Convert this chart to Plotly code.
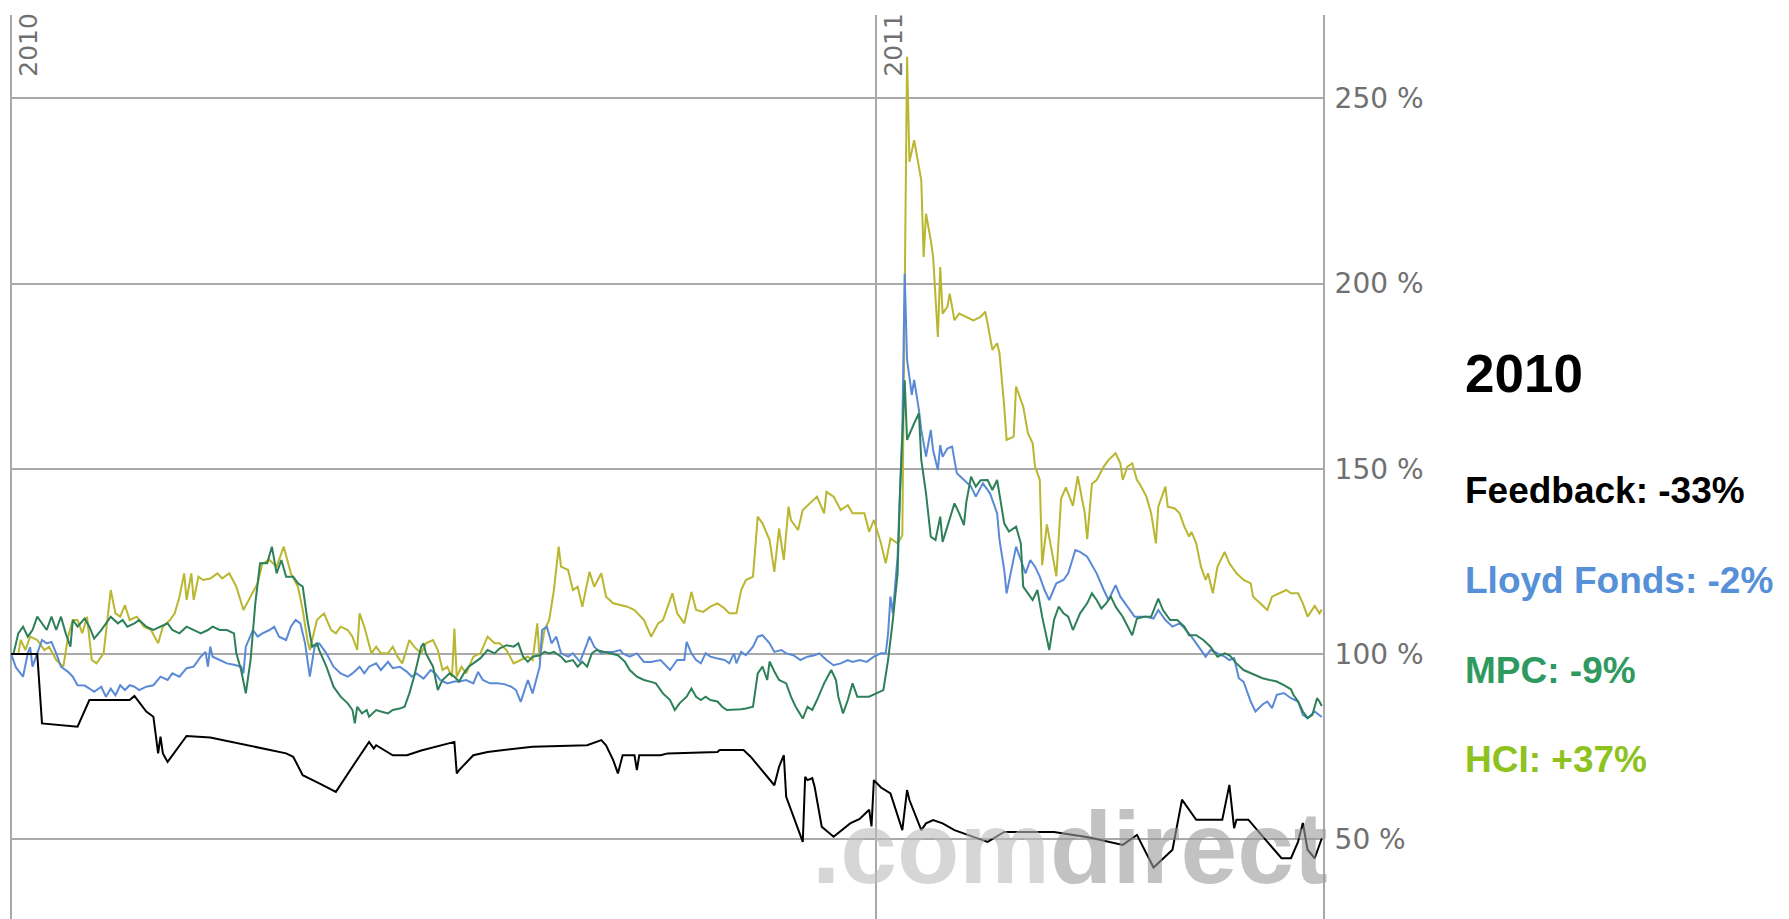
import pandas as pd
import plotly.graph_objects as go

# ---------------- data (day offset from 2010-01-01, value in %) ----------------
start_date = "2010-01-01"

hci = [(0,100),(3,100),(4,103.8),(6,101.1),(8,104.7),(11,103.8),(14,101.1),(16,102),(19,98.4),(22,96.6),
       (24,104.7),(26,109.2),(28,109.2),(30,105.6),(32,110.1),(34,98.4),(36,97.5),(39,100.2),(42,117.3),(44,111),
       (46,110.1),(48,113.2),(50,109.2),(53,110.1),(56,107.4),(59,106.5),(62,102.9),(64,107.4),(67,109.2),(69,111),
       (71,115.5),(73,121.8),(74,114.6),(76,121.8),(77,114.6),(79,120.9),(81,120),(84,120.4),(87,121.8),(89,120.4),
       (92,121.8),(95,118.2),(98,111.9),(101,115.5),(104,119.1),(106,124.5),(109,125.4),(112,123.6),(115,129),(118,121.8),
       (121,118.2),(123,111.9),(125,103.8),(126,101.1),(129,109.2),(132,111),(135,106.5),(137,105.6),(139,107.4),(142,106.5),
       (144,104.7),(146,101.1),(147,111),(149,107.4),(152,100.2),(154,102),(156,100.2),(159,100.2),(161,102),(163,99.3),
       (165,97.5),(168,103.8),(170,102),(173,100.2),(175,102.9),(178,103.8),(180,101.1),(182,95.7),(184,96.6),(186,93.9),
       (187,106.9),(188,93.9),(190,96.6),(192,94.8),(195,99.3),(198,100.2),(201,104.7),(204,102.9),(206,102.9),(209,101.1),
       (212,97.5),(215,98.4),(218,99.3),(220,98.4),(222,108.3),(223,98.4),(225,106.5),(227,109.2),(229,117.3),(231,129),
       (232,123.6),(235,122.7),(237,117.3),(239,118.2),(241,112.8),(244,122.2),(246,118.2),(249,121.8),(251,115.5),(254,113.7),
       (257,113.2),(260,112.8),(263,111.9),(267,109.2),(270,104.7),(273,108.3),(275,109.2),(279,116.4),(281,111),(284,108.3),
       (287,116.8),(289,111.9),(292,111.4),(295,112.8),(298,113.7),(301,112.3),(303,111),(306,111),(308,117.3),(310,120),
       (313,120.9),(315,137.1),(317,135.3),(320,130.8),(322,122.2),(324,133.9),(326,125.4),(328,139.8),(329,136.2),(332,133.5),
       (334,138.9),(337,140.7),(340,142.5),(343,138),(344,143.8),(347,142.5),(350,138.9),(353,140.2),(355,138),(360,138),
       (362,133),(364,136.2),(367,129.9),(369,124.5),(371,131.2),(374,129.9),(376,132),(378,261.2),(379,232.9),(381,238.7),
       (384,227.9),(385,207.2),(386,218.9),(388,211.7),(389,207.2),(391,185.6),(392,204.5),(393,191.9),(395,193.7),(396,197.3),
       (398,190.1),(400,191.9),(403,191),(406,190.1),(409,191),(411,192.4),(412,189.2),(414,182.1),(416,183.9),(417,181.2),
       (419,166.8),(420,157.8),(423,158.7),(424,172.2),(427,166.8),(429,159.6),(431,156.9),(432,150.6),(434,147),(435,124),
       (437,135),(439,128),(441,121),(443,142),(445,145),(448,140),(450,148),(453,138),(454,131),(456,146),
       (458,147),(461,150.6),(463,152.4),(466,154.2),(468,151.5),(469,147),(471,150.6),(473,151.5),(475,147),(476,146.1),
       (479,142.5),(481,138),(483,129.9),(484,139.8),(487,145.2),(488,139.8),(491,139.3),(493,138),(495,134.4),(497,131.7),
       (498,133),(500,129.9),(502,123.6),(504,120),(505,121.8),(507,116.4),(509,123.6),(512,127.6),(514,124.5),(517,121.8),
       (520,120),(523,119.1),(524,115.5),(527,113.7),(530,111.9),(532,115.5),(535,116.4),(538,117.3),(540,116.4),(543,116.4),
       (545,113.7),(547,110.1),(550,113),(552,111),(553,112)]

lloyd = [(0,100),(2,96.4),(5,93.9),(7,100.2),(8,101.9),(9,96.6),(11,100.2),(13,103.8),(15,102.9),(17,103.3),
         (19,100.2),(21,96.6),(24,95.2),(26,93.9),(28,91.6),(31,91.5),(33,90.7),(35,89.8),(38,91.2),(40,88.5),
         (42,90.7),(44,88.9),(46,91.6),(48,90.3),(50,91.6),(52,91.2),(54,90.3),(57,91.2),(60,91.6),(63,93.9),
         (66,93),(68,94.8),(71,93.9),(74,96.2),(77,96.6),(80,99.3),(82,100.6),(83,96.6),(84,102),(85,99.3),
         (88,98.4),(91,97.5),(94,97.1),(97,96.6),(98,94.8),(99,102),(102,106.5),(104,104.7),(106,105.6),(109,106.5),
         (111,107.4),(113,104.7),(116,103.8),(118,107.4),(120,109.2),(122,108.3),(124,102.9),(126,93.9),(128,101.9),(130,102.9),
         (133,100.2),(136,96.6),(139,94.8),(142,93.9),(144,94.8),(147,96.6),(149,94.8),(151,96.6),(154,97.5),(156,95.7),
         (159,97.9),(161,96.2),(164,96.6),(167,95.2),(169,93.9),(171,94.8),(174,93.4),(177,95.7),(179,94.8),(181,93),
         (184,92.1),(187,92.6),(189,92.6),(192,93),(195,92.1),(197,95.2),(199,93),(202,92.1),(205,92.1),(208,91.9),
         (211,91.2),(213,90.3),(215,87.1),(217,91.2),(218,93),(220,89.4),(223,96.6),(224,106.5),(226,107.4),(228,102.9),
         (230,104.7),(232,100.2),(235,99.3),(237,100.2),(240,97.9),(243,102.9),(244,104.7),(246,102),(249,100.2),(251,100.6),
         (254,100.6),(257,101.1),(258,100.2),(261,99.3),(264,100.2),(267,97.9),(270,97.9),(274,98.4),(278,95.7),(281,98.4),
         (284,98.4),(285,103.3),(287,100.2),(289,98.4),(291,97.5),(293,100.2),(295,99.3),(298,98.8),(301,98.4),(303,97.5),
         (305,100.2),(306,97.5),(308,100.6),(310,99.7),(313,102),(315,104.7),(317,105.1),(320,102.9),(322,100.6),(325,101.1),
         (327,100.2),(330,99.7),(333,98.4),(336,99.3),(339,99.7),(341,100.2),(344,98.4),(347,97),(350,97.5),(353,98.4),
         (355,97.9),(358,98.4),(361,97.9),(364,99.3),(367,100.2),(369,100.2),(370,105.6),(371,115.5),(372,111),(374,126.3),
         (376,160),(377,202.7),(378,179.4),(380,170),(381,174),(383,165.9),(384,160.5),(386,153.3),(388,160.5),(389,155),
         (391,149.7),(392,156.4),(393,153.3),(395,155.5),(397,156),(399,148.8),(402,147),(405,145.2),(407,142.5),(410,146.1),
         (413,143.4),(416,138),(417,130.8),(419,122.7),(420,116.4),(422,122.7),(424,129),(426,125.4),(428,121.8),(430,125.4),
         (432,123.6),(434,120.9),(436,117.3),(438,114.6),(441,119.1),(444,120),(446,121.8),(449,128.1),(451,127.6),(454,126.3),
         (457,122.7),(458,121.8),(461,117.3),(463,114.6),(466,118.6),(468,115.5),(471,112.8),(474,110.1),(476,110.1),(479,110.1),
         (482,109.6),(484,111.9),(487,109.2),(490,107.4),(493,108.3),(495,107),(498,104.7),(500,102.9),(504,99.3),(506,101.1),
         (509,100.2),(512,99.3),(514,98.4),(516,98.9),(518,93.5),(520,92.5),(523,87.2),(525,84.5),(528,86.4),(530,87.2),
         (532,85.4),(534,89),(537,89.5),(540,88.1),(543,87.2),(545,83.6),(547,82.7),(550,84.5),(553,83)]

mpc = [(0,100),(1,100.2),(3,105.6),(5,107.4),(7,104.7),(9,106.5),(11,110.1),(13,108.3),(15,106.5),(17,110.1),
       (19,106.5),(21,110.1),(23,105.6),(25,102),(26,109.2),(28,107.4),(31,109.6),(33,107.4),(35,104.2),(38,106.5),
       (40,108.3),(42,110.1),(45,108.3),(47,109.2),(49,107.4),(52,108.3),(54,109.2),(57,107.4),(60,106.5),(63,107.4),
       (66,108.3),(68,106.5),(71,105.6),(74,107.4),(77,106.5),(80,105.6),(83,106.5),(85,107.4),(88,106.5),(91,106.5),
       (94,105.6),(95,100.2),(97,95.7),(99,89.4),(101,98.4),(103,113.7),(105,124.5),(108,124.5),(110,129),(112,121.8),
       (114,125.4),(116,120.9),(119,120.9),(121,119.1),(123,118.2),(125,109.2),(127,102),(129,102.9),(130,101),(133,96.6),
       (136,91.2),(139,88.5),(142,86.7),(144,84.9),(145,81.3),(146,85.8),(148,84),(150,84.9),(151,83.1),(154,84.9),
       (156,84.5),(159,84),(161,84.9),(164,85.3),(166,85.8),(168,89.4),(170,93.9),(173,102),(174,102.9),(175,100.2),
       (178,96.6),(179,93),(180,90.3),(182,93),(185,94.8),(187,93.9),(189,92.6),(191,94.8),(193,96.6),(195,97.5),
       (198,98.9),(201,101.1),(204,100.2),(206,101.5),(209,102.4),(212,102),(214,102.9),(216,99.3),(218,97.9),(220,99.3),
       (223,99.7),(225,100.6),(227,100.2),(229,100.6),(232,99.3),(234,97.9),(237,98.4),(239,96.6),(241,97.9),(243,96.6),
       (245,100.2),(247,101.1),(250,100.6),(253,100.2),(256,99.7),(259,97.9),(261,95.7),(264,93.9),(267,93),(270,92.5),
       (272,92.1),(275,89.4),(278,87.6),(280,84.9),(282,86.7),(285,88.5),(287,90.7),(289,88.5),(291,87.6),(293,88.5),
       (295,87.6),(298,87.2),(300,85.8),(302,84.9),(305,84.9),(308,85.1),(310,85.3),(313,85.8),(315,94.8),(317,96.6),
       (319,93),(320,98),(322,95.3),(324,93),(327,92.1),(329,88.5),(331,85.8),(334,82.6),(336,85.8),(338,84.9),
       (340,87.6),(343,92.1),(346,95.7),(348,93),(349,88.5),(351,84),(353,87.6),(355,92.1),(357,88.5),(360,88.5),
       (362,88.5),(365,89.4),(368,90.3),(370,98.4),(372,109.2),(374,121.8),(375,143.4),(377,173.9),(378,157.8),(381,162.3),
       (383,165),(384,152.4),(386,143.4),(388,131.7),(390,130.8),(392,137.1),(393,130.3),(395,134.4),(398,140.7),(400,138),
       (402,134.8),(403,141),(405,147.9),(407,145.2),(409,146.9),(412,147),(414,144.3),(416,147),(419,135.3),(421,133.1),
       (424,134.4),(426,129.9),(427,118.2),(429,116.4),(431,114.6),(433,117.3),(435,110.1),(438,101.1),(440,109.2),(442,112.8),
       (444,111),(446,110.1),(448,106.5),(451,111),(454,113.7),(456,116.4),(458,114.6),(460,112.3),(462,113.7),(464,115.5),
       (466,112.8),(469,110.1),(471,107.4),(473,105.1),(475,109.6),(478,110.1),(481,110.1),(484,115),(486,111.9),(489,109.2),
       (492,109.2),(495,107.4),(497,105.1),(500,105.1),(503,103.8),(506,102),(509,99.3),(512,100.2),(514,99.7),(517,97.5),
       (520,95.7),(523,94.8),(526,93.9),(528,93.5),(531,93),(534,92.6),(537,91.6),(540,90.5),(541,89),(543,87.2),
       (545,84.5),(547,82.7),(549,83.6),(551,88.1),(552,87.2),(553,86)]

feedback = [(0,100),(11,100),(13,81.3),(28,80.4),(33,87.6),(50,87.6),(52,88.7),(57,84.5),(60,83.1),(62,73.2),
            (63,77.7),(64,73.2),(66,70.9),(74,77.9),(84,77.5),(116,73.2),(119,72.3),(123,67.3),(130,65.1),(137,62.8),
            (144,69.6),(151,76.3),(153,74.5),(154,75.4),(161,72.7),(167,72.7),(173,74),(185,75.9),(187,76.3),(188,67.8),
            (189,68.7),(195,72.7),(201,73.6),(220,75),(243,75.4),(249,76.8),(251,75.4),(254,71.4),(256,67.8),(258,72.7),
            (263,72.7),(264,68.7),(265,72.7),(274,72.7),(277,73.2),(298,73.6),(299,74.1),(309,74.1),(312,72.3),(322,64.6),
            (324,69.6),(326,72.7),(327,61.5),(334,49.3),(335,66.9),(336,66),(338,66.5),(339,64.2),(342,53.4),(347,50.7),
            (354,54.3),(358,55.5),(362,58),(363,53.5),(364,66),(367,64),(371,62.4),(376,52.5),(378,63.3),(379,60.6),
            (384,52.5),(386,54.3),(389,55.2),(393,54.3),(398,52.5),(412,49.3),(419,52),(440,52),(455,50.5),(469,48.5),
            (475,51.2),(482,42.4),(490,47.2),(494,60.7),(500,55.3),(511,55.3),(514,64.7),(516,53),(517,55.3),(522,55.3),
            (530,49.5),(536,44.9),(540,44.9),(543,49.4),(545,54.4),(547,47.2),(550,44.9),(553,50.3)]

series_names = ["HCI", "Lloyd Fonds", "MPC", "Feedback"]
series_data = [hci, lloyd, mpc, feedback]
line_colors = ["#b9b630", "#5a8ad6", "#2d8059", "#000000"]

year_ticks = ["2010-01-01", "2011-01-01"]
year_labels = ["2010", "2011"]
pct_ticks = [50, 100, 150, 200, 250]
pct_labels = ["50 %", "100 %", "150 %", "200 %", "250 %"]

title_text = "2010"
legend_names = ["Feedback", "Lloyd Fonds", "MPC", "HCI"]
legend_changes = ["-33%", "-2%", "-9%", "+37%"]
legend_colors = ["#000000", "#5590d9", "#2f9a60", "#8dc21f"]

grid_color = "#a9a9a9"
label_color = "#707070"

# ---------------- figure ----------------
fig = go.Figure()
base = pd.Timestamp(start_date)
for name, data, color in zip(series_names, series_data, line_colors):
    days, vals = zip(*data)
    x = base + pd.to_timedelta(list(days), unit="D")
    fig.add_trace(go.Scatter(x=x, y=list(vals), mode="lines", name=name,
                             line=dict(color=color, width=2), hoverinfo="x+y+name"))

annotations = []
# vertical year labels at top
for d, lab in zip(year_ticks, year_labels):
    annotations.append(dict(x=d, xref="x", y=1, yref="paper", text=lab, textangle=-90,
                            xanchor="left", yanchor="top", showarrow=False, xshift=1, yshift=3,
                            borderpad=0, font=dict(family="DejaVu Sans", size=25, color=label_color)))
# watermark
annotations.append(dict(x=0.6093, y=0.0785, xref="paper", yref="paper", xanchor="left", yanchor="middle",
                        showarrow=False, opacity=0.6,
                        text="<span style='color:#bcbcbc'>.com</span><span style='color:#9b9b9b'>direct</span>",
                        font=dict(family="Liberation Sans, Arial", size=102, color="#9b9b9b", weight="bold")))
# title & legend text
annotations.append(dict(x=1.1066, y=0.6029, xref="paper", yref="paper", xanchor="left", yanchor="middle",
                        showarrow=False, text="<b>%s</b>" % title_text,
                        font=dict(family="Liberation Sans, Arial", size=53, color="#000000")))
for i, (n, c, col) in enumerate(zip(legend_names, legend_changes, legend_colors)):
    annotations.append(dict(x=1.1066, y=0.4735 - i * 0.0992, xref="paper", yref="paper",
                            xanchor="left", yanchor="middle", showarrow=False,
                            text="<b>%s: %s</b>" % (n, c),
                            font=dict(family="Liberation Sans, Arial", size=37, color=col)))

fig.update_layout(
    width=1781, height=911,
    margin=dict(l=2, r=466, t=7, b=0, pad=0),
    paper_bgcolor="white", plot_bgcolor="white",
    showlegend=False,
    annotations=annotations,
    xaxis=dict(type="date", range=["2009-12-31 12:00", "2011-07-08 12:00"],
               tickvals=year_ticks, showticklabels=False, ticks="",
               showgrid=True, gridcolor=grid_color, gridwidth=2,
               zeroline=False, showline=False),
    yaxis=dict(side="right", range=[28.5, 272.5], tickvals=pct_ticks, ticktext=pct_labels,
               ticks="", showgrid=True, gridcolor=grid_color, gridwidth=2,
               showline=True, linecolor=grid_color, linewidth=2, zeroline=False,
               ticklabelstandoff=4,
               tickfont=dict(family="DejaVu Sans", size=28, color=label_color)),
)

fig.write_html("out.html")
